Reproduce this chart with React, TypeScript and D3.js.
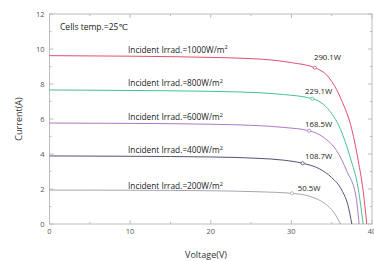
import * as d3 from "d3";

const WIDTH = 374;
const HEIGHT = 261;
const MARGIN = { top: 14, right: 2, bottom: 37, left: 49.5 };

const xTicks = [0, 10, 20, 30, 40];
const yTicks = [0, 2, 4, 6, 8, 10, 12];

// I-V curves: [voltage, current]
const irr1000: [number, number][] = [
  [0, 9.62], [10, 9.59], [20, 9.52], [25, 9.45], [28, 9.35], [30, 9.22],
  [32.9, 8.93], [34.6, 8.4], [36.2, 7.1], [37.5, 5.4], [38.3, 3.6], [38.9, 1.9], [39.35, 0],
];
const irr800: [number, number][] = [
  [0, 7.66], [10, 7.63], [20, 7.58], [26, 7.5], [29, 7.4], [32.6, 7.16],
  [34.5, 6.6], [36.1, 5.4], [37.3, 3.8], [38.3, 2.0], [38.9, 0],
];
const irr600: [number, number][] = [
  [0, 5.77], [10, 5.75], [20, 5.7], [26, 5.62], [29, 5.52], [32.2, 5.33],
  [34, 4.95], [35.6, 4.2], [36.9, 3.0], [38, 1.6], [38.4, 0],
];
const irr400: [number, number][] = [
  [0, 3.89], [10, 3.87], [20, 3.83], [26, 3.75], [29, 3.65], [31.4, 3.47],
  [33.5, 3.15], [35, 2.65], [36.25, 1.94], [37, 1.1], [37.5, 0],
];
const irr200: [number, number][] = [
  [0, 1.94], [10, 1.93], [20, 1.9], [26, 1.84], [30.1, 1.75],
  [32.5, 1.55], [34.2, 1.15], [35.3, 0.65], [36.1, 0],
];

const seriesNames = ["1000", "800", "600", "400", "200"];
const seriesData = [irr1000, irr800, irr600, irr400, irr200];
const seriesColors = ["#e24f6c", "#45c290", "#ad78c4", "#525278", "#aca2b6"];
const mppPoints: [number, number][] = [[32.9, 8.93], [32.6, 7.16], [32.2, 5.33], [31.4, 3.47], [30.1, 1.75]];
const powerLabels = ["290.1W", "229.1W", "168.5W", "108.7W", "50.5W"];
const irradLabelY = [9.95, 8.05, 6.1, 4.2, 2.15];
const powerLabelPos: [number, number][] = [[32.8, 9.5], [31.7, 7.6], [31.7, 5.7], [31.7, 3.85], [30.8, 2.05]];

const FONT = "'Open Sans', 'DejaVu Sans', sans-serif";

export default function App() {
  const x = d3.scaleLinear().domain([0, 40]).range([MARGIN.left, WIDTH - MARGIN.right]);
  const y = d3.scaleLinear().domain([0, 12]).range([HEIGHT - MARGIN.bottom, MARGIN.top]);
  const line = d3
    .line<[number, number]>()
    .x((d) => x(d[0]))
    .y((d) => y(d[1]))
    .curve(d3.curveMonotoneX);

  const x0 = x(0);
  const x1 = x(40);
  const y0 = y(0);
  const y1 = y(12);
  const axisColor = "#bcbcbc";

  const minorX = d3.range(0, 41, 5);
  const minorY = d3.range(0, 13, 1);

  return (
    <svg width={WIDTH} height={HEIGHT} style={{ position: "absolute", left: 0, top: 0, background: "#fff" }}>
      {/* frame */}
      <rect x={x0} y={y1} width={x1 - x0} height={y0 - y1} fill="none" stroke={axisColor} strokeWidth={1} />
      {minorX.map((v) => (
        <g key={"mx" + v}>
          <line x1={x(v)} x2={x(v)} y1={y0} y2={y0 - (v % 10 === 0 ? 4 : 2)} stroke={axisColor} />
          <line x1={x(v)} x2={x(v)} y1={y1} y2={y1 + (v % 10 === 0 ? 4 : 2)} stroke={axisColor} />
        </g>
      ))}
      {minorY.map((v) => (
        <g key={"my" + v}>
          <line x1={x0} x2={x0 + (v % 2 === 0 ? 4 : 2)} y1={y(v)} y2={y(v)} stroke={axisColor} />
          <line x1={x1} x2={x1 - (v % 2 === 0 ? 4 : 2)} y1={y(v)} y2={y(v)} stroke={axisColor} />
        </g>
      ))}
      {xTicks.map((v) => (
        <text key={"xt" + v} x={x(v)} y={y0 + 10} textAnchor="middle" fontSize={7.5} fill="#555" fontFamily={FONT}>
          {v}
        </text>
      ))}
      {yTicks.map((v) => (
        <text key={"yt" + v} x={x0 - 5} y={y(v) + 2.5} textAnchor="end" fontSize={7.5} fill="#555" fontFamily={FONT}>
          {v}
        </text>
      ))}
      <text x={206} y={258} textAnchor="middle" fontSize={9} fill="#333" fontFamily={FONT}>
        Voltage(V)
      </text>
      <text
        transform={`translate(22,${(y0 + y1) / 2}) rotate(-90)`}
        textAnchor="middle"
        fontSize={9}
        fill="#333"
        fontFamily={FONT}
      >
        Current(A)
      </text>
      <text x={60} y={30} fontSize={8.5} fill="#222" fontFamily={FONT}>
        Cells temp.=25℃
      </text>

      {seriesData.map((d, i) => (
        <g key={seriesNames[i]}>
          <path d={line(d) ?? ""} fill="none" stroke={seriesColors[i]} strokeWidth={1} />
          <circle cx={x(mppPoints[i][0])} cy={y(mppPoints[i][1])} r={1.6} fill="#fff" stroke={seriesColors[i]} strokeWidth={0.8} />
          <text x={128} y={y(irradLabelY[i]) + 2.8} fontSize={8.3} fill="#222" fontFamily={FONT}>
            {"Incident Irrad.=" + seriesNames[i] + "W/m"}
            <tspan fontSize={5.5} dy={-3.2}>2</tspan>
          </text>
          <text x={x(powerLabelPos[i][0])} y={y(powerLabelPos[i][1]) + 2.7} fontSize={7.8} fill="#222" fontFamily={FONT}>
            {powerLabels[i]}
          </text>
        </g>
      ))}
    </svg>
  );
}
